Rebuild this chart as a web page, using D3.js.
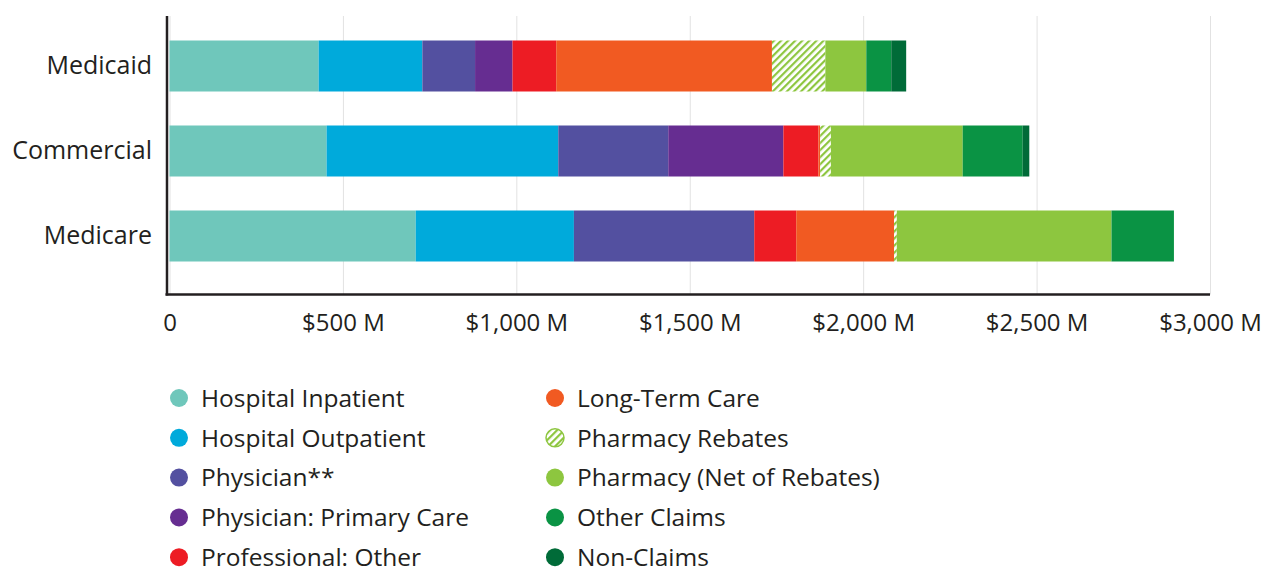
<!DOCTYPE html>
<html>
<head>
<meta charset="utf-8">
<script src="https://cdn.jsdelivr.net/npm/d3@7"></script>
<style>
  body { margin: 0; background: #fff; }
  text { font-family: "Open Sans", sans-serif; fill: #231f20; }
</style>
</head>
<body>
<div id="chart"></div>
<script>
const width = 1275;
const height = 574;

// spending by payer, millions of dollars
const payers = ["Medicaid", "Commercial", "Medicare"];
const categories = [
  "Hospital Inpatient", "Hospital Outpatient", "Physician**", "Physician: Primary Care",
  "Professional: Other", "Long-Term Care", "Pharmacy Rebates", "Pharmacy (Net of Rebates)",
  "Other Claims", "Non-Claims"
];
const medicaid   = [430, 299, 152, 108, 126, 622, 154, 118, 72, 43];
const commercial = [453, 668, 317, 332, 101, 5, 31, 380, 173, 19];
const medicare   = [710, 456, 520, 0, 121, 282, 8, 619, 180, 0];
const tickValues = [0, 500, 1000, 1500, 2000, 2500, 3000];

const colors = ["#6fc7bb", "#00aadb", "#5350a0", "#662d91", "#ed1c24",
                "#f15a22", "url(#rebates)", "#8dc63f", "#0a9344", "#006b38"];

const series = [medicaid, commercial, medicare];
const rows = payers.map((p, i) => {
  const row = { payer: p };
  categories.forEach((c, j) => row[c] = series[i][j]);
  return row;
});

const svg = d3.select("#chart").append("svg")
  .attr("width", width)
  .attr("height", height);

// hatch for the rebates segment
const pattern = svg.append("defs").append("pattern")
  .attr("id", "rebates")
  .attr("patternUnits", "userSpaceOnUse")
  .attr("width", 5)
  .attr("height", 5)
  .attr("patternTransform", "rotate(45)");
pattern.append("rect").attr("width", 5).attr("height", 5).attr("fill", "#fff");
pattern.append("rect").attr("width", 2.2).attr("height", 5).attr("fill", "#8dc63f");

const x = d3.scaleLinear()
  .domain([0, 3000])
  .range([169.5, 1210]);

const y = d3.scaleBand()
  .domain(payers)
  .range([23.5, 278.5])
  .paddingInner(0.4)
  .paddingOuter(0.2);

const axisY = 294.5;
const gridTop = 16;

// gridlines
svg.append("g")
  .attr("class", "grid")
  .attr("transform", `translate(0,${axisY})`)
  .call(d3.axisBottom(x).tickValues(tickValues).tickSize(-(axisY - gridTop)).tickFormat(""))
  .call(g => g.select(".domain").remove())
  .call(g => g.selectAll("line").attr("stroke", "#e2e2e2").attr("stroke-width", 1));

const stacked = d3.stack().keys(categories)(rows);

svg.append("g")
  .selectAll("g")
  .data(stacked)
  .join("g")
  .attr("fill", (d, i) => colors[i])
  .selectAll("rect")
  .data(d => d)
  .join("rect")
  .attr("x", d => x(d[0]))
  .attr("y", d => y(d.data.payer))
  .attr("width", d => x(d[1]) - x(d[0]))
  .attr("height", y.bandwidth());

// x axis
svg.append("g")
  .attr("class", "xAxis")
  .attr("transform", `translate(0,${axisY})`)
  .call(d3.axisBottom(x).tickValues(tickValues).tickSize(0).tickPadding(19)
    .tickFormat(d => d === 0 ? "0" : "$" + d3.format(",")(d) + " M"))
  .call(g => g.select(".domain").remove())
  .call(g => g.selectAll("text")
    .style("font-size", "24px")
    .style("font-family", "Open Sans")
    .attr("fill", "#231f20"));

svg.append("line")
  .attr("x1", 165.5).attr("x2", x(3000))
  .attr("y1", axisY).attr("y2", axisY)
  .attr("stroke", "#231f20").attr("stroke-width", 2.5);

// y axis
svg.append("g")
  .attr("class", "yAxis")
  .attr("transform", "translate(167,0)")
  .call(d3.axisLeft(y).tickSize(0).tickPadding(15))
  .call(g => g.select(".domain").remove())
  .call(g => g.selectAll("text")
    .style("font-size", "25px")
    .style("font-family", "Open Sans")
    .attr("fill", "#231f20"));

svg.append("line")
  .attr("x1", 167).attr("x2", 167)
  .attr("y1", gridTop).attr("y2", axisY + 1)
  .attr("stroke", "#231f20").attr("stroke-width", 2.5);

// legend
const legend = svg.append("g").attr("class", "legend");
const item = legend.selectAll("g")
  .data(categories)
  .join("g")
  .attr("transform", (d, i) => {
    const col = Math.floor(i / 5), row = i % 5;
    return `translate(${col === 0 ? 179 : 555},${398 + row * 39.8})`;
  });

item.append("circle")
  .attr("r", 9)
  .attr("fill", (d, i) => colors[i])
  .attr("stroke", (d, i) => i === 6 ? "#8dc63f" : "none")
  .attr("stroke-width", 1.5);

item.append("text")
  .attr("x", 22)
  .attr("dy", "0.36em")
  .style("font-size", "24.5px")
  .style("font-family", "Open Sans")
  .text(d => d);
</script>
</body>
</html>
